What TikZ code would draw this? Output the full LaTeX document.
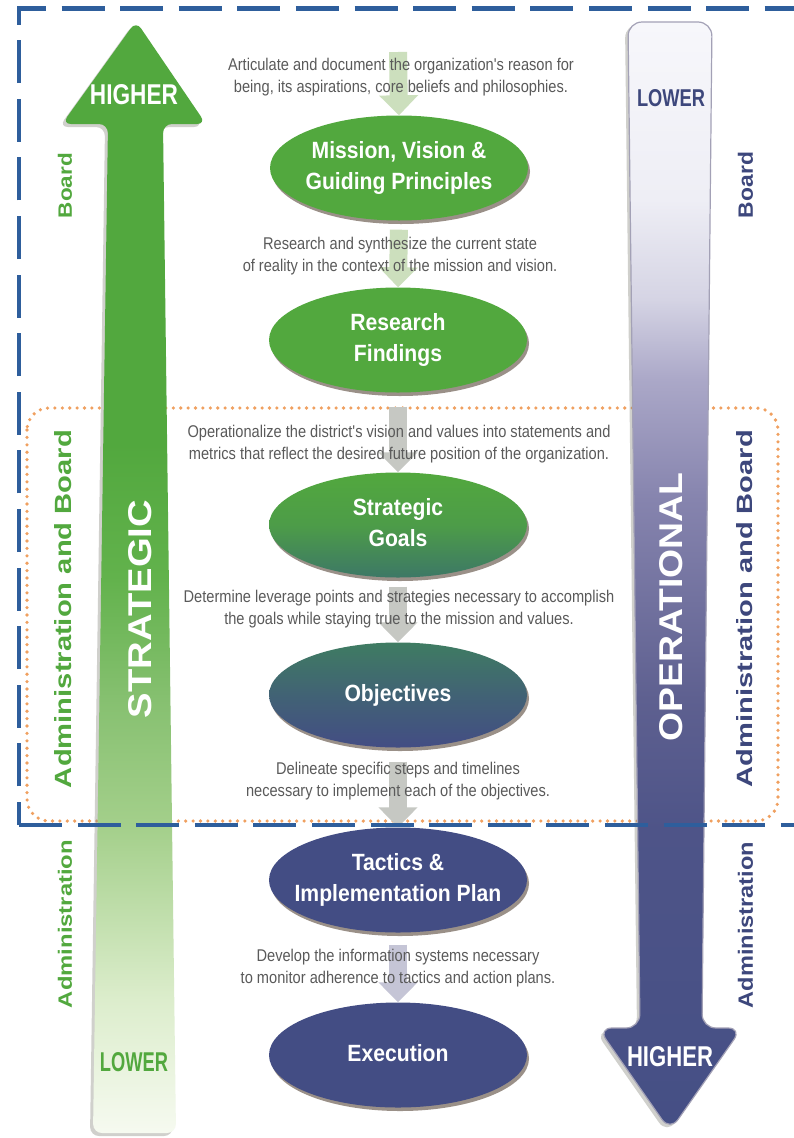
\documentclass[tikz,border=0pt]{standalone}
\usepackage{fontspec}
\setmainfont{Liberation Sans}
\newfontfamily\descfont[FakeStretch=0.86]{Liberation Sans}
\newfontfamily\ellfont[FakeStretch=0.9]{Liberation Sans}
\usepackage{graphicx}
\usetikzlibrary{shapes.geometric,arrows.meta,shadows}

\definecolor{gmain}{HTML}{52A83E}
\definecolor{gA}{HTML}{F6FAF0}
\definecolor{gB}{HTML}{DCEDCC}
\definecolor{gC}{HTML}{A5D08C}
\definecolor{gD}{HTML}{86C070}
\definecolor{gE}{HTML}{62B24C}
\definecolor{pA}{HTML}{454F85}
\definecolor{pB}{HTML}{4E5488}
\definecolor{pC}{HTML}{5E6090}
\definecolor{pD}{HTML}{8684AE}
\definecolor{pE}{HTML}{ABA8C8}
\definecolor{pF}{HTML}{D5D4E4}
\definecolor{pG}{HTML}{EEEEF5}
\definecolor{pH}{HTML}{F7F7FB}
\definecolor{purpleedge}{HTML}{A3A1B6}
\definecolor{navy}{HTML}{434D84}
\definecolor{navytext}{HTML}{3D477C}
\definecolor{teal}{HTML}{3D7866}
\definecolor{tealB}{HTML}{3F7C62}
\definecolor{desctext}{HTML}{5A5A5A}
\definecolor{connG}{HTML}{CCDFBD}
\definecolor{connGray}{HTML}{C6C8C3}
\definecolor{connL}{HTML}{C5C5D6}
\definecolor{orangedot}{HTML}{F0A060}
\definecolor{bluedash}{HTML}{2E5E9C}
\definecolor{ellshadow}{HTML}{9A9088}
\definecolor{arrowshadow}{HTML}{8A8A80}

\pgfdeclareverticalshading{greenarrow}{100bp}{color(0bp)=(gA); color(25bp)=(gA); color(31bp)=(gB); color(38.6bp)=(gC); color(44.5bp)=(gD); color(50bp)=(gE); color(56bp)=(gmain); color(100bp)=(gmain)}
\pgfdeclareverticalshading{purplearrow}{100bp}{color(0bp)=(pA); color(25bp)=(pA); color(38.6bp)=(pB); color(44.5bp)=(pC); color(53.5bp)=(pD); color(58.9bp)=(pE); color(62.5bp)=(pF); color(67bp)=(pG); color(75bp)=(pH); color(100bp)=(pH)}

\newcommand{\fitlab}[3]{\resizebox{#1pt}{#2pt}{#3}}
\newcommand{\ztext}[1]{\makebox[0pt]{\begin{tabular}{@{}c@{}}#1\end{tabular}}}

\begin{document}
\begin{tikzpicture}[x=1pt,y=-1pt,
  ell/.style={ellipse, minimum width=258pt, minimum height=105pt, inner sep=0pt,
    text=white, font=\ellfont\bfseries\fontsize{23.5}{31}\selectfont,
    general shadow={fill=ellshadow, shadow xshift=2pt, shadow yshift=-3.5pt}},
  desc/.style={align=center, text=desctext, inner sep=0pt,
    font=\descfont\fontsize{17}{22.5}\selectfont},
  conn/.style={line width=18pt, -{Triangle[width=38pt,length=20pt]}},
  vlab/.style={rotate=90, inner sep=0pt, font=\bfseries},
  blab/.style={inner sep=0pt, font=\bfseries},
  bluedashline/.style={draw=bluedash, line width=4.8pt, dash pattern=on 43pt off 15.6pt}
]
\useasboundingbox (0,0) rectangle (793,1138);
\fill[white] (0,0) rectangle (793,1138);

% orange dotted region
\draw[orangedot, line width=3.6pt, line cap=round, dash pattern=on 0pt off 7.4pt, rounded corners=22pt]
  (27,408) rectangle (778,821);

% green arrow (strategic)
\path[fill=arrowshadow, opacity=0.4, rounded corners=9pt]
  (131,1136) -- (90,1136) -- (105,127) -- (59,127) -- (133,24) -- (203,127) -- (160,127) -- (173,1136) -- cycle;
\path[shade, shading=greenarrow, rounded corners=9pt]
  (134,1133) -- (93,1133) -- (108,124) -- (62,124) -- (136,21) -- (206,124) -- (163,124) -- (176,1133) -- cycle;

% purple arrow (operational)
\path[fill=arrowshadow, opacity=0.4, rounded corners=14pt]
  (667,24) -- (709,24) -- (699,1031) -- (739,1031) -- (667,1134) -- (595,1031) -- (637,1031) -- (625,24) -- cycle;
\path[shade, shading=purplearrow, draw=purpleedge, line width=1.2pt, rounded corners=14pt]
  (670,22) -- (712,22) -- (702,1028) -- (742,1028) -- (670,1131) -- (598,1028) -- (640,1028) -- (628,22) -- cycle;

% ellipses
\node[ell, fill=gmain] (mission) at (399,168) {\ztext{Mission, Vision \&\\Guiding Principles}};
\node[ell, fill=gmain] (research) at (398,340) {\ztext{Research\\Findings}};
\node[ell, top color=gmain, bottom color=teal, middle color=gmain!75!teal] (goals) at (398,525) {\ztext{Strategic\\Goals}};
\node[ell, top color=tealB, bottom color=navy, middle color=tealB!45!navy] (objectives) at (398,695) {\ztext{Objectives}};
\node[ell, fill=navy] (tactics) at (398,880) {\ztext{Tactics \&\\Implementation Plan}};
\node[ell, fill=navy] (execution) at (398,1055) {\ztext{Execution}};

% connectors
\coordinate (start) at (398,52);
\draw[conn, connG] (start) -- (mission.north);
\draw[conn, connG, shorten <=9pt] (mission.south) -- (research.north);
\draw[conn, connGray, shorten <=14pt] (research.south) -- (goals.north);
\draw[conn, connGray, shorten <=9pt] (goals.south) -- (objectives.north);
\draw[conn, connGray, shorten <=14pt] (objectives.south) -- (tactics.north);
\draw[conn, connL, shorten <=12pt] (tactics.south) -- (execution.north);

% descriptions
\node[desc] (d1) at (401,77) {Articulate and document the organization's reason for\\being, its aspirations, core beliefs and philosophies.};
\node[desc] (d2) at (400,256) {Research and synthesize the current state\\of reality in the context of the mission and vision.};
\node[desc] (d3) at (399,444) {Operationalize the district's vision and values into statements and\\metrics that reflect the desired future position of the organization.};
\node[desc] (d4) at (399,609) {Determine leverage points and strategies necessary to accomplish\\the goals while staying true to the mission and values.};
\node[desc] (d5) at (398,781) {Delineate specific steps and timelines\\necessary to implement each of the objectives.};
\node[desc] (d6) at (398,968) {Develop the information systems necessary\\to monitor adherence to tactics and action plans.};

% arrow labels
\node[blab, text=white] (higherTop) at (134,95) {\fitlab{88}{20}{HIGHER}};
\node[blab, text=navytext] (lowerTop) at (671,98.5) {\fitlab{68}{17}{LOWER}};
\node[blab, text=gmain] (lowerBot) at (134,1062) {\fitlab{68}{19}{LOWER}};
\node[blab, text=white] (higherBot) at (670,1057) {\fitlab{86}{20}{HIGHER}};
\node[vlab, text=white] (strategic) at (140,609) {\fitlab{218}{23}{STRATEGIC}};
\node[vlab, text=white] (operational) at (671,607) {\fitlab{269}{23}{OPERATIONAL}};

% side labels
\node[vlab, text=gmain] (boardL) at (65,185.5) {\fitlab{65}{14}{Board}};
\node[vlab, text=navytext] (boardR) at (745.5,185) {\fitlab{66}{15}{Board}};
\node[vlab, text=gmain] (abL) at (63.5,609) {\fitlab{358}{17}{Administration and Board}};
\node[vlab, text=navytext] (abR) at (745,608.5) {\fitlab{357}{16}{Administration and Board}};
\node[vlab, text=gmain] (adL) at (65,924) {\fitlab{168}{14}{Administration}};
\node[vlab, text=navytext] (adR) at (745.5,925) {\fitlab{166}{15}{Administration}};

% blue dashed region
\draw[bluedashline, dash phase=20pt] (19,825) -- (19,8.5) -- (805,8.5);
\draw[bluedashline] (19,825) -- (805,825);
\end{tikzpicture}
\end{document}
